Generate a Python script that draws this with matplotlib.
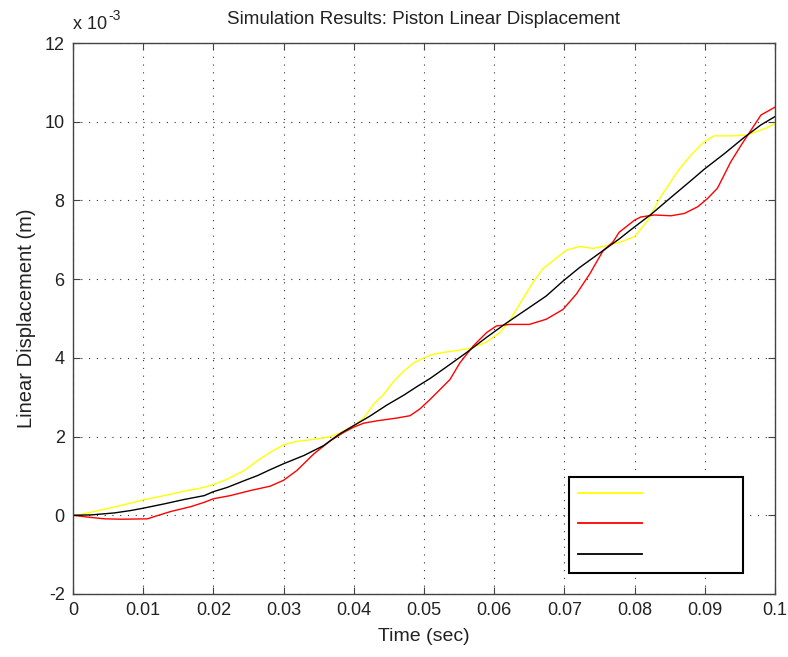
import numpy as np
import matplotlib
matplotlib.use("Agg")
import matplotlib.pyplot as plt
from matplotlib.ticker import MultipleLocator, FuncFormatter

# piston displacement, values in units of 1e-3 m
t_yellow = [0, 0.0011, 0.0026, 0.0054, 0.0082, 0.010, 0.013, 0.0158, 0.0187, 0.020,
            0.022, 0.0244, 0.0263, 0.0281, 0.030, 0.0319, 0.0348, 0.0367, 0.038, 0.040,
            0.0414, 0.0428, 0.0443, 0.0457, 0.0471, 0.0485, 0.050, 0.0513, 0.0532, 0.0556,
            0.057, 0.0589, 0.0608, 0.0622, 0.0636, 0.0655, 0.0669, 0.0684, 0.0703, 0.0722,
            0.0741, 0.076, 0.0781, 0.080, 0.0819, 0.0837, 0.0861, 0.088, 0.0899, 0.0913,
            0.0937, 0.096, 0.0974, 0.0989, 0.1]
x_yellow = [0, 0.02, 0.08, 0.19, 0.31, 0.39, 0.5, 0.61, 0.71, 0.78,
            0.92, 1.14, 1.39, 1.6, 1.79, 1.88, 1.94, 2.0, 2.09, 2.28,
            2.47, 2.82, 3.08, 3.41, 3.66, 3.87, 4.0, 4.09, 4.15, 4.21,
            4.27, 4.4, 4.64, 4.94, 5.36, 5.91, 6.26, 6.47, 6.74, 6.83,
            6.78, 6.85, 6.95, 7.08, 7.5, 8.09, 8.73, 9.15, 9.49, 9.64,
            9.64, 9.66, 9.75, 9.85, 9.96]

t_red = [0, 0.0023, 0.0045, 0.0068, 0.0106, 0.012, 0.014, 0.0168, 0.0187, 0.020,
         0.0224, 0.0253, 0.0281, 0.030, 0.0319, 0.0343, 0.0367, 0.0386, 0.040, 0.0414,
         0.0433, 0.0461, 0.048, 0.0494, 0.0509, 0.0537, 0.0551, 0.057, 0.0589, 0.0603,
         0.0622, 0.065, 0.0674, 0.0698, 0.0717, 0.0736, 0.0755, 0.0769, 0.0778, 0.080,
         0.0809, 0.0828, 0.0852, 0.0871, 0.089, 0.0904, 0.0918, 0.0937, 0.0952, 0.0966,
         0.098, 0.1]
x_red = [0, -0.05, -0.09, -0.1, -0.09, -0.01, 0.1, 0.22, 0.33, 0.42,
         0.5, 0.63, 0.74, 0.89, 1.14, 1.56, 1.9, 2.11, 2.24, 2.34,
         2.4, 2.47, 2.53, 2.7, 2.95, 3.45, 3.87, 4.3, 4.64, 4.81,
         4.85, 4.85, 4.98, 5.23, 5.62, 6.13, 6.72, 6.94, 7.19, 7.5,
         7.58, 7.63, 7.61, 7.67, 7.84, 8.05, 8.31, 8.98, 9.41, 9.79,
         10.17, 10.37]

t_black = [0, 0.0026, 0.0059, 0.0082, 0.010, 0.013, 0.0158, 0.0187, 0.020, 0.022,
           0.0244, 0.0263, 0.0281, 0.030, 0.0329, 0.0357, 0.038, 0.040, 0.0423, 0.0447,
           0.0471, 0.049, 0.0509, 0.0532, 0.0561, 0.0589, 0.0617, 0.0646, 0.0674, 0.0698,
           0.0722, 0.075, 0.0778, 0.0795, 0.0823, 0.0852, 0.088, 0.0899, 0.0928, 0.0956,
           0.098, 0.1]
x_black = [0, 0.01, 0.06, 0.12, 0.18, 0.29, 0.4, 0.5, 0.6, 0.71,
           0.88, 1.01, 1.16, 1.31, 1.52, 1.77, 2.07, 2.28, 2.52, 2.8,
           3.05, 3.27, 3.48, 3.77, 4.14, 4.52, 4.88, 5.23, 5.57, 5.95,
           6.3, 6.66, 7.02, 7.26, 7.64, 8.08, 8.5, 8.79, 9.19, 9.6,
           9.92, 10.13]

plt.rcParams['font.family'] = ['Liberation Sans', 'DejaVu Sans']
txt = '#222222'
edge = '#444444'

fig = plt.figure(figsize=(7.88, 6.57), dpi=100)
ax = fig.add_axes([73 / 788, 63 / 657, 702 / 788, 551 / 657])

scale = 1e-3
ax.plot(t_yellow, np.array(x_yellow) * scale, color='#ffff00', lw=1.0, label=' ')
ax.plot(t_red, np.array(x_red) * scale, color='#ff0000', lw=1.0, label=' ')
ax.plot(t_black, np.array(x_black) * scale, color='black', lw=1.0, label=' ')

ax.set_xlim(0, 0.1)
ax.set_ylim(-0.002, 0.012)
ax.xaxis.set_major_locator(MultipleLocator(0.01))
ax.yaxis.set_major_locator(MultipleLocator(0.002))
ax.xaxis.set_major_formatter(FuncFormatter(lambda v, p: '%g' % round(v, 4)))
ax.yaxis.set_major_formatter(FuncFormatter(lambda v, p: '%g' % round(v / scale, 4)))

ax.grid(True, color='#333333', linestyle=(0, (1, 6)), linewidth=0.8)
ax.tick_params(direction='in', length=5, width=0.8, top=True, right=True,
               labelsize=13, colors=edge, labelcolor=txt, pad=6)
for s in ax.spines.values():
    s.set_color(edge)
    s.set_linewidth(1.0)

ax.set_title('Simulation Results: Piston Linear Displacement', fontsize=13.5,
             color=txt, pad=14)
ax.set_xlabel('Time (sec)', fontsize=14, color=txt, labelpad=6)
ax.set_ylabel('Linear Displacement (m)', fontsize=14.5, color=txt, labelpad=6)

# exponent label in the corner, "x 10" then a raised "-3"
base = ax.text(0.0, 1.018, 'x 10', transform=ax.transAxes, fontsize=13,
               color=txt, ha='left', va='bottom')
fig.canvas.draw()
bb = base.get_window_extent().transformed(ax.transAxes.inverted())
ax.text(bb.x1 + 0.002, bb.y1 - 0.012, '-3', transform=ax.transAxes, fontsize=10,
        color=txt, ha='left', va='bottom')

leg = ax.legend(loc='lower left', bbox_to_anchor=(0.707, 0.038, 0.247, 0.176),
                mode='expand', fancybox=False, framealpha=1, fontsize=13,
                handlelength=3.5, borderpad=0.5, labelspacing=0.75,
                borderaxespad=0)
leg.get_frame().set_edgecolor('black')
leg.get_frame().set_linewidth(1.5)
for ln in leg.get_lines():
    ln.set_linewidth(1.3)

fig.savefig('out.png', dpi=100)
